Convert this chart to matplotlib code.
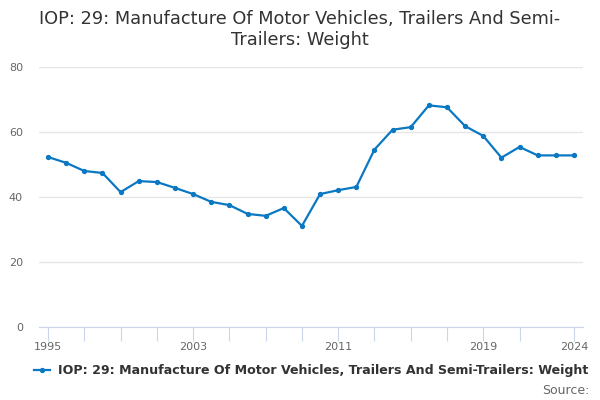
import matplotlib
matplotlib.use("Agg")
import matplotlib.pyplot as plt

years = list(range(1995, 2025))
weight = [52.3, 50.5, 48.0, 47.4, 41.5, 44.9, 44.6, 42.8, 40.9, 38.5,
          37.5, 34.8, 34.2, 36.6, 31.1, 40.9, 42.1, 43.1, 54.6, 60.7,
          61.5, 68.2, 67.6, 61.8, 58.8, 52.1, 55.4, 52.8, 52.8, 52.8]
label_years = [1995, 2003, 2011, 2019, 2024]
yticks = [0, 20, 40, 60, 80]
series_name = "IOP: 29: Manufacture Of Motor Vehicles, Trailers And Semi-Trailers: Weight"
title = "IOP: 29: Manufacture Of Motor Vehicles, Trailers And Semi-\nTrailers: Weight"

line_col = "#0a78c2"

fig = plt.figure(figsize=(6, 4), dpi=100)
ax = fig.add_axes([39 / 600, 1 - 327 / 400, (583 - 39) / 600, 260 / 400])

ax.plot(years, weight, color=line_col, lw=1.6, marker="o", ms=2.8, zorder=3)

ax.set_xlim(1994.5, 2024.5)
ax.set_ylim(0, 80)
ax.set_yticks(yticks)
ax.grid(axis="y", color="#e6e6e6", lw=1)
ax.set_axisbelow(True)
for s in ["top", "right", "left"]:
    ax.spines[s].set_visible(False)
ax.spines["bottom"].set_color("#ccd6eb")
ax.tick_params(axis="y", length=0, labelsize=8, labelcolor="#666666", pad=11.5)

# tick marks every two years plus the last year, labels only on some
tick_pos = list(range(1995, 2022, 2)) + [2024]
ax.set_xticks(tick_pos)
ax.set_xticklabels([str(y) if y in label_years else "" for y in tick_pos])
ax.tick_params(axis="x", length=10, color="#ccd6eb", labelsize=8,
               labelcolor="#666666", pad=1)

fig.text(0.5, 0.975, title, ha="center", va="top", fontsize=12.8,
         color="#333333", linespacing=1.2)

# legend
ax.legend([series_name], loc="upper center", bbox_to_anchor=(0.5, -0.1),
          frameon=False, prop={"size": 9.1, "weight": "bold"},
          handlelength=1.3, handletextpad=0.6, labelcolor="#333333")
fig.text(0.982, 0.008, "Source:", ha="right", va="bottom", fontsize=9,
         color="#666666")

fig.savefig("out.png", dpi=100)
